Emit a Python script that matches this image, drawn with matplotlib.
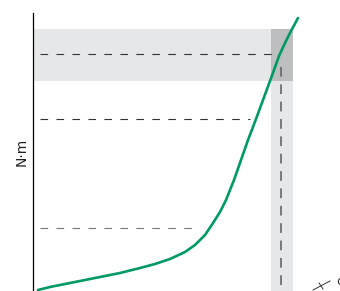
import matplotlib
matplotlib.use("Agg")
import matplotlib.pyplot as plt
from matplotlib.patches import Rectangle

plt.rcParams["lines.scale_dashes"] = False

# curve (x, y) in chart units
curve_x = [5, 17, 32, 47, 67, 87, 107, 122, 137, 152, 162, 172, 180, 187, 193,
           201, 208, 215, 223, 230, 237, 241, 246, 252, 258, 265]
curve_y = [1, 4, 7, 10, 14, 18, 23, 27, 32, 39, 46, 56, 68, 79, 91,
           111, 131, 151, 172, 191, 210, 221, 235, 248, 260, 273]

# reference levels (y) and where their dashed lines stop (x)
levels = [237, 172, 63]
level_ends = [242, 217, 165]
level_colors = ["#333333", "#333333", "#777777"]

band_y = (210, 262)   # horizontal shaded band
band_x = (238, 260)   # vertical shaded band
mark_x = 248          # vertical dashed line

fig = plt.figure(figsize=(3.40, 2.91), dpi=100)
ax = fig.add_axes([33 / 340, 0, 307 / 340, 278 / 291])
ax.set_xlim(0, 307)
ax.set_ylim(0, 278)

light = "#e6e7e8"
dark = "#bcbec0"
ax.add_patch(Rectangle((0, band_y[0]), band_x[0], band_y[1] - band_y[0], color=light, lw=0))
ax.add_patch(Rectangle((band_x[0], 0), band_x[1] - band_x[0], band_y[0], color=light, lw=0))
ax.add_patch(Rectangle((band_x[0], band_y[0]), band_x[1] - band_x[0], band_y[1] - band_y[0],
                       color=dark, lw=0))

for y, x_end, c in zip(levels, level_ends, level_colors):
    ax.plot([7, x_end], [y, y], color=c, lw=0.8, linestyle=(0, (5.5, 6)))
ax.plot([mark_x, mark_x], [6, 229], color="#666666", lw=1.2, linestyle=(0, (7, 5.5)))

ax.plot(curve_x, curve_y, color="#009a63", lw=1.9, solid_capstyle="round",
        solid_joinstyle="round", clip_on=False)

for s in ["top", "right", "bottom"]:
    ax.spines[s].set_visible(False)
ax.spines["left"].set_linewidth(0.9)
ax.set_xticks([])
ax.set_yticks([])
ax.set_ylabel("N·m", fontsize=10, color="#222222", labelpad=3)

# cut-off axis label at bottom right
fig.text(336 / 340, 3 / 291, "c", fontsize=9, color="#333333", ha="left", va="bottom")
fig.add_artist(plt.Line2D([313 / 340, 330 / 340], [1 / 291, 10 / 291], color="#333333", lw=0.7))
fig.add_artist(plt.Line2D([319 / 340, 323 / 340], [8 / 291, 2 / 291], color="#333333", lw=0.7))

fig.savefig("out.png", dpi=100)
